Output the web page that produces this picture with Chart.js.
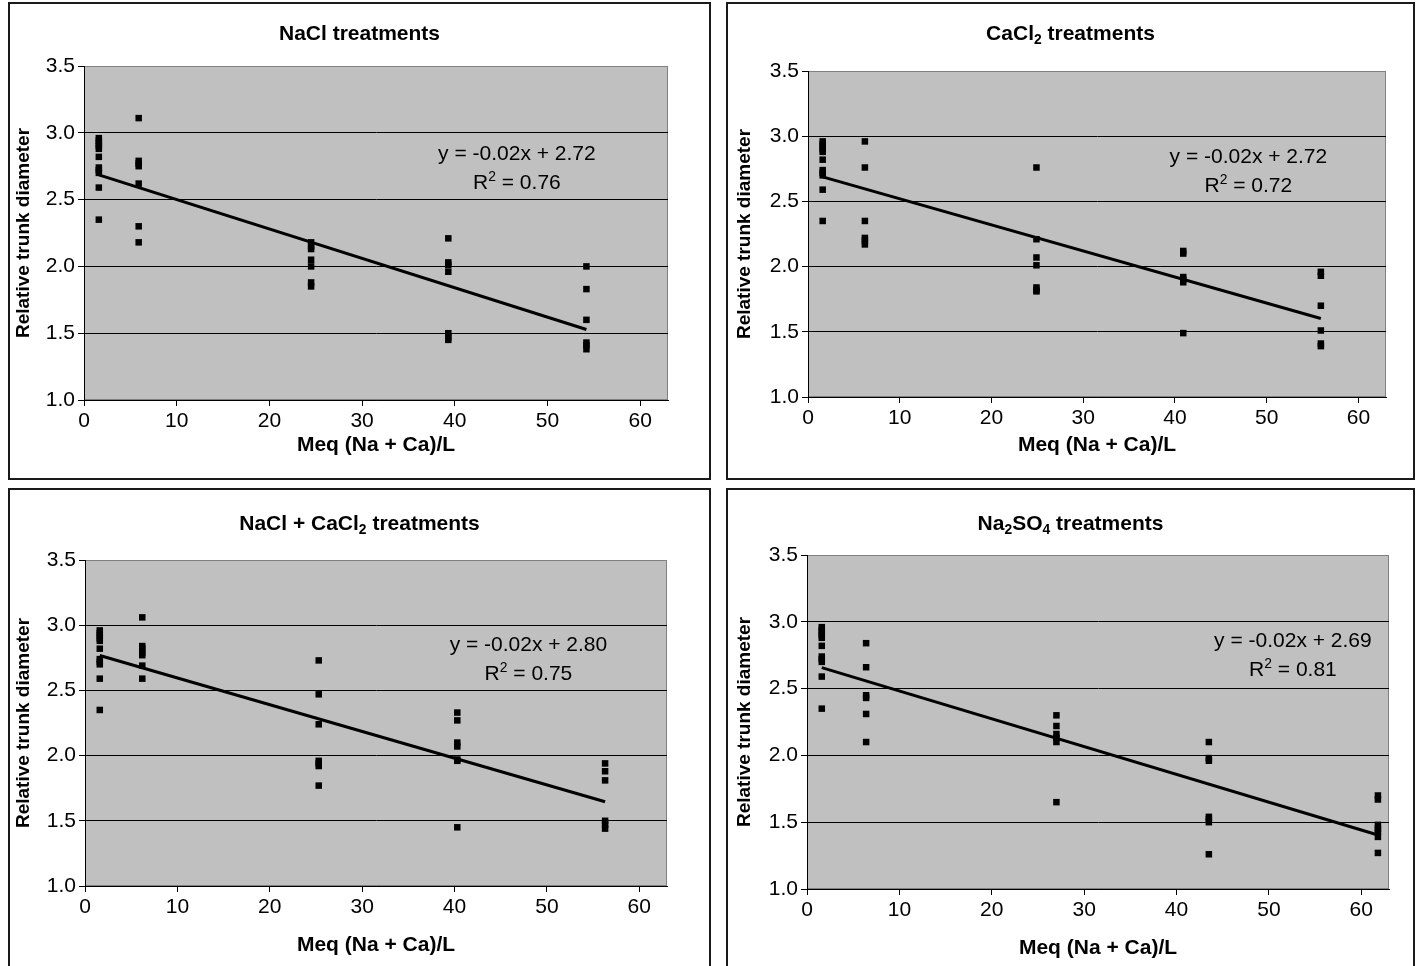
<!DOCTYPE html>
<html>
<head>
<meta charset="utf-8">
<script src="https://cdn.jsdelivr.net/npm/chart.js@4.4.1/dist/chart.umd.min.js"></script>
<style>
  html, body { margin: 0; padding: 0; background: #fff; width: 1420px; height: 966px; overflow: hidden; }
  .box { position: absolute; border: 2px solid #1a1a1a; box-sizing: border-box; }
  canvas { position: absolute; }
</style>
</head>
<body>
<div id="root"></div>
<script>
// ---- Data: relative trunk diameter vs. salt concentration, Meq (Na + Ca)/L ----
const xTicks = [0, 10, 20, 30, 40, 50, 60];
const yTicks = [1.0, 1.5, 2.0, 2.5, 3.0, 3.5];

// control trees (same set in every treatment group)
const controlDose = 1.6;
const controlY = [2.96, 2.94, 2.92, 2.90, 2.88, 2.82, 2.74, 2.72, 2.70, 2.59, 2.35];

// NaCl
const naclDoses = [5.9, 24.5, 39.3, 54.2];
const naclY = [
  [3.11, 2.79, 2.77, 2.75, 2.62, 2.30, 2.18],
  [2.18, 2.15, 2.13, 2.05, 2.00, 1.88, 1.85],
  [2.21, 2.03, 2.01, 1.96, 1.50, 1.47, 1.45],
  [2.00, 1.83, 1.60, 1.43, 1.41, 1.38]
];

// CaCl2
const caclDoses = [6.2, 24.9, 40.9, 55.9];
const caclY = [
  [2.96, 2.76, 2.35, 2.22, 2.20, 2.17],
  [2.76, 2.21, 2.07, 2.01, 1.84, 1.82, 1.81],
  [2.12, 2.10, 1.92, 1.90, 1.88, 1.49],
  [1.96, 1.93, 1.70, 1.51, 1.41, 1.39]
];

// NaCl + CaCl2
const mixDoses = [6.2, 25.3, 40.3, 56.3];
const mixY = [
  [3.06, 2.84, 2.82, 2.79, 2.77, 2.69, 2.59],
  [2.73, 2.47, 2.24, 1.96, 1.94, 1.92, 1.77],
  [2.33, 2.27, 2.10, 2.07, 1.97, 1.96, 1.45],
  [1.94, 1.88, 1.81, 1.50, 1.47, 1.44]
];

// Na2SO4
const sulfDoses = [6.4, 27.0, 43.5, 61.8];
const sulfY = [
  [2.84, 2.66, 2.45, 2.43, 2.31, 2.10],
  [2.30, 2.22, 2.16, 2.13, 2.10, 1.65],
  [2.10, 1.98, 1.96, 1.54, 1.52, 1.50, 1.26],
  [1.70, 1.67, 1.48, 1.45, 1.43, 1.39, 1.27]
];

// linear trend lines (slope, intercept) and R^2
const trendSlope = [-0.022, -0.020, -0.0205, -0.0208];
const trendIntercept = [2.72, 2.72, 2.80, 2.69];
const trendR2 = [0.76, 0.72, 0.75, 0.81];

const panelTitles = ['NaCl treatments', 'CaCl_{2} treatments', 'NaCl + CaCl_{2} treatments', 'Na_{2}SO_{4} treatments'];
const xTitle = 'Meq (Na + Ca)/L';
const yTitle = 'Relative trunk diameter';

// ---- Layout (page pixels) ----
const layout = [
  { box: [8, 2, 703, 478],   plot: [84, 66, 668, 400],   titleY: 32,  xTitleY: 445, yTitleX: 24,  label: [46.7, 2.85] },
  { box: [726, 2, 689, 478], plot: [808, 71, 1386, 397], titleY: 32,  xTitleY: 445, yTitleX: 745, label: [48.0, 2.85] },
  { box: [8, 488, 703, 480], plot: [85, 560, 667, 886],  titleY: 522, xTitleY: 945, yTitleX: 24,  label: [48.0, 2.86] },
  { box: [726, 488, 689, 480], plot: [807, 555, 1389, 889], titleY: 522, xTitleY: 948, yTitleX: 745, label: [52.6, 2.87] }
];

const FONT = '"Liberation Sans", Arial, Helvetica, sans-serif';
const TICK_SIZE = 21, XTITLE_SIZE = 21, YTITLE_SIZE = 19, TITLE_SIZE = 21, EQ_SIZE = 21;

function buildPoints(doses, groups) {
  const pts = controlY.map(v => ({ x: controlDose, y: v }));
  doses.forEach((d, i) => groups[i].forEach(v => pts.push({ x: d, y: v })));
  return pts;
}

const groups = [
  buildPoints(naclDoses, naclY),
  buildPoints(caclDoses, caclY),
  buildPoints(mixDoses, mixY),
  buildPoints(sulfDoses, sulfY)
];

// parse "_{..}" (subscript) and "^{..}" (superscript) markup into segments
function parseRich(str) {
  const segs = [];
  const re = /([_^])\{([^}]*)\}/g;
  let last = 0, m;
  while ((m = re.exec(str)) !== null) {
    if (m.index > last) segs.push({ t: str.slice(last, m.index), k: 'n' });
    segs.push({ t: m[2], k: m[1] === '_' ? 'sub' : 'sup' });
    last = re.lastIndex;
  }
  if (last < str.length) segs.push({ t: str.slice(last), k: 'n' });
  return segs;
}

function drawRich(ctx, str, cx, cy, size, weight) {
  const segs = parseRich(str);
  const small = size * 0.66;
  const fonts = segs.map(s => `${weight} ${s.k === 'n' ? size : small}px ${FONT}`);
  let total = 0;
  const widths = segs.map((s, i) => { ctx.font = fonts[i]; const w = ctx.measureText(s.t).width; total += w; return w; });
  let x = cx - total / 2;
  const base = cy + size * 0.36;
  ctx.save();
  ctx.fillStyle = '#000';
  ctx.textAlign = 'left';
  ctx.textBaseline = 'alphabetic';
  segs.forEach((s, i) => {
    ctx.font = fonts[i];
    let y = base;
    if (s.k === 'sub') y += size * 0.22;
    if (s.k === 'sup') y -= size * 0.38;
    ctx.fillText(s.t, x, y);
    x += widths[i];
  });
  ctx.restore();
}

// grey plot area with grey frame (top/right)
const plotBackground = {
  id: 'plotBackground',
  beforeDraw(chart) {
    const { ctx, chartArea: a } = chart;
    ctx.save();
    ctx.fillStyle = '#c0c0c0';
    ctx.fillRect(a.left, a.top, a.right - a.left, a.bottom - a.top);
    ctx.strokeStyle = '#808080';
    ctx.lineWidth = 1;
    ctx.strokeRect(a.left + 0.5, a.top + 0.5, a.right - a.left - 1, a.bottom - a.top - 1);
    ctx.restore();
  }
};

// panel title and trend-line equation
const panelText = {
  id: 'panelText',
  afterDraw(chart, args, opts) {
    const { ctx } = chart;
    drawRich(ctx, opts.title, chart.width / 2, opts.titleY, TITLE_SIZE, 'bold');
    const sx = chart.scales.x.getPixelForValue(opts.label[0]);
    const sy = chart.scales.y.getPixelForValue(opts.label[1]);
    drawRich(ctx, opts.eq, sx, sy, EQ_SIZE, 'normal');
    drawRich(ctx, opts.r2, sx, sy + 29, EQ_SIZE, 'normal');
  }
};

const root = document.getElementById('root');

layout.forEach((L, i) => {
  const [bx, by, bw, bh] = L.box;
  const [pl, pt, pr, pb] = L.plot;

  const frame = document.createElement('div');
  frame.className = 'box';
  Object.assign(frame.style, { left: bx + 'px', top: by + 'px', width: bw + 'px', height: bh + 'px' });
  root.appendChild(frame);

  const cv = document.createElement('canvas');
  cv.width = bw; cv.height = bh;
  Object.assign(cv.style, { left: bx + 'px', top: by + 'px', width: bw + 'px', height: bh + 'px' });
  root.appendChild(cv);

  const yAxisW = pl - bx;
  const xAxisH = bh - (pb - by);
  const xtLine = XTITLE_SIZE * 1.2;
  const xtPadBottom = (bh - (L.xTitleY - by)) - xtLine / 2;
  const ytLine = YTITLE_SIZE * 1.2;
  const ytPadTop = (L.yTitleX - bx) - ytLine / 2;

  const pts = groups[i];
  const xsAll = pts.map(p => p.x);
  const x0 = Math.min(...xsAll), x1 = Math.max(...xsAll);
  const trend = [x0, x1].map(x => ({ x, y: trendIntercept[i] + trendSlope[i] * x }));

  new Chart(cv, {
    type: 'scatter',
    data: {
      datasets: [
        { data: pts, pointStyle: 'rect', pointRadius: 4.6, pointHoverRadius: 4.6,
          backgroundColor: '#000', borderColor: '#000', borderWidth: 0, order: 1 },
        { type: 'line', data: trend, borderColor: '#000', borderWidth: 3, pointRadius: 0,
          fill: false, showLine: true, order: 0 }
      ]
    },
    options: {
      responsive: false,
      animation: false,
      devicePixelRatio: 1,
      events: [],
      layout: { padding: { left: 0, top: pt - by, right: (bx + bw) - pr, bottom: 0 } },
      plugins: {
        legend: { display: false },
        tooltip: { enabled: false },
        title: { display: false },
        panelText: {
          title: panelTitles[i],
          titleY: L.titleY - by,
          label: L.label,
          eq: `y = ${trendSlope[i].toFixed(2)}x + ${trendIntercept[i].toFixed(2)}`,
          r2: `R^{2} = ${trendR2[i].toFixed(2)}`
        }
      },
      scales: {
        x: {
          type: 'linear', min: 0, max: 63,
          afterBuildTicks: s => { s.ticks = xTicks.map(v => ({ value: v })); },
          afterFit: s => { s.height = xAxisH; },
          grid: { drawOnChartArea: false, drawTicks: true, tickLength: 6, color: '#000', lineWidth: 1 },
          border: { display: true, color: '#000', width: 1 },
          ticks: { color: '#000', font: { family: FONT, size: TICK_SIZE }, padding: 3, maxRotation: 0, autoSkip: false },
          title: { display: true, text: xTitle, color: '#000',
                   font: { family: FONT, size: XTITLE_SIZE, weight: 'bold', lineHeight: 1.2 },
                   padding: { top: 0, bottom: xtPadBottom } }
        },
        y: {
          type: 'linear', min: 1.0, max: 3.5,
          afterBuildTicks: s => { s.ticks = yTicks.map(v => ({ value: v })); },
          afterFit: s => { s.width = yAxisW; },
          grid: { drawOnChartArea: true, drawTicks: true, tickLength: 6, lineWidth: 1,
                  color: c => (c.tick && c.tick.value === 3.5) ? '#808080' : '#000',
                  tickColor: '#000' },
          border: { display: true, color: '#000', width: 1 },
          ticks: { color: '#000', font: { family: FONT, size: TICK_SIZE }, padding: 3,
                   callback: v => Number(v).toFixed(1) },
          title: { display: true, text: yTitle, color: '#000',
                   font: { family: FONT, size: YTITLE_SIZE, weight: 'bold', lineHeight: 1.2 },
                   padding: { top: ytPadTop, bottom: 0 } }
        }
      }
    },
    plugins: [plotBackground, panelText]
  });
});
</script>
</body>
</html>
